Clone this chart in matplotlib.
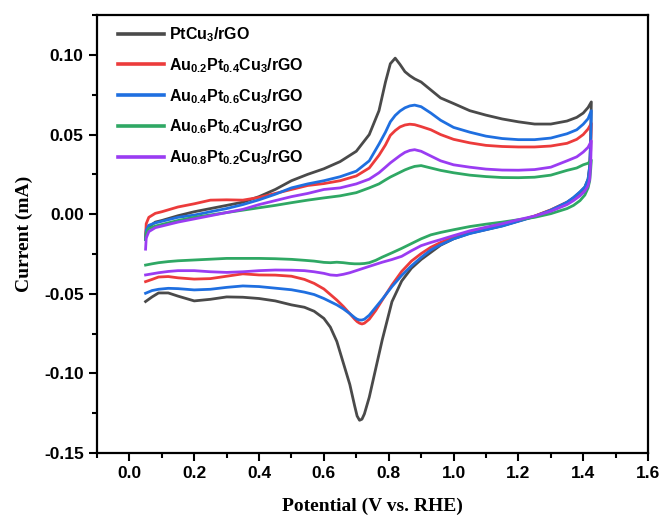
import numpy as np
import matplotlib
matplotlib.use("Agg")
import matplotlib.pyplot as plt

plt.rcParams['font.family'] = ['Liberation Sans', 'DejaVu Sans']
plt.rcParams['mathtext.fontset'] = 'custom'
plt.rcParams['mathtext.rm'] = 'Liberation Sans:bold'
plt.rcParams['mathtext.it'] = 'Liberation Sans:bold'
plt.rcParams['mathtext.bf'] = 'Liberation Sans:bold'

# legend labels and colours
labels = ['PtCu$_3$/rGO',
          'Au$_{0.2}$Pt$_{0.4}$Cu$_3$/rGO',
          'Au$_{0.4}$Pt$_{0.6}$Cu$_3$/rGO',
          'Au$_{0.6}$Pt$_{0.4}$Cu$_3$/rGO',
          'Au$_{0.8}$Pt$_{0.2}$Cu$_3$/rGO']
colors = ['#4a4a4a', '#ec3b3b', '#1f6fe0', '#2fa864', '#9a3cf2']

# anodic sweep (0.05 -> 1.425 V)
x_an = [0.05, 0.052, 0.06, 0.08, 0.1, 0.15, 0.2, 0.25, 0.3, 0.35, 0.4, 0.45, 0.5,
        0.55, 0.6, 0.65, 0.7, 0.74, 0.77, 0.79, 0.805, 0.82, 0.835, 0.85, 0.865, 0.88,
        0.9, 0.93, 0.96, 1.0, 1.05, 1.1, 1.15, 1.2, 1.25, 1.3, 1.35, 1.38, 1.4, 1.415,
        1.425]

an_ptcu3 = [-0.016, -0.011, -0.008, -0.005, -0.004, -0.001, 0.0015, 0.0035, 0.0055,
            0.0075, 0.011, 0.0155, 0.021, 0.025, 0.0285, 0.033, 0.0395, 0.050, 0.065,
            0.083, 0.0945, 0.098, 0.094, 0.0895, 0.087, 0.085, 0.083, 0.078, 0.073,
            0.0695, 0.065, 0.0622, 0.0598, 0.058, 0.0566, 0.0566, 0.0585, 0.0608, 0.0635,
            0.067, 0.0705]
an_au02 = [-0.014, -0.006, -0.002, 0.0005, 0.0015, 0.0045, 0.0065, 0.0088, 0.009,
           0.0088, 0.0105, 0.013, 0.0155, 0.018, 0.0192, 0.021, 0.024, 0.029, 0.037,
           0.0435, 0.0495, 0.0525, 0.0548, 0.056, 0.0565, 0.0562, 0.055, 0.053, 0.050,
           0.047, 0.0448, 0.0432, 0.0425, 0.0422, 0.0422, 0.0428, 0.0445, 0.047, 0.050,
           0.0535, 0.057]
an_au04 = [-0.016, -0.010, -0.007, -0.0055, -0.0045, -0.002, -0.0006, 0.0015, 0.0035,
           0.006, 0.009, 0.0125, 0.0165, 0.019, 0.021, 0.0235, 0.027, 0.0335, 0.044,
           0.0515, 0.058, 0.062, 0.0648, 0.0668, 0.068, 0.0685, 0.0675, 0.0635, 0.059,
           0.0545, 0.0515, 0.049, 0.0475, 0.0468, 0.0468, 0.0478, 0.0505, 0.053, 0.0565,
           0.060, 0.065]
an_au06 = [-0.016, -0.012, -0.009, -0.0075, -0.0065, -0.004, -0.002, -0.0005, 0.001,
           0.0025, 0.004, 0.0055, 0.0072, 0.0088, 0.0102, 0.0115, 0.0135, 0.0165, 0.019,
           0.0215, 0.0233, 0.0248, 0.0263, 0.0278, 0.029, 0.030, 0.0305, 0.029, 0.0275,
           0.026, 0.0245, 0.0236, 0.023, 0.0229, 0.0232, 0.0245, 0.0275, 0.029, 0.031,
           0.032, 0.034]
an_au08 = [-0.022, -0.015, -0.011, -0.0085, -0.0075, -0.005, -0.003, -0.001, 0.001,
           0.003, 0.006, 0.0085, 0.011, 0.013, 0.0155, 0.0165, 0.019, 0.022, 0.026,
           0.0295, 0.0322, 0.0345, 0.0368, 0.0388, 0.040, 0.0405, 0.0395, 0.0365, 0.0335,
           0.031, 0.0295, 0.0283, 0.0277, 0.0276, 0.028, 0.0295, 0.0335, 0.036, 0.039,
           0.042, 0.046]

# cathodic sweep (1.425 -> 0.05 V)
x_cat = [1.425, 1.423, 1.42, 1.415, 1.405, 1.39, 1.37, 1.35, 1.3, 1.25, 1.2, 1.15,
         1.1, 1.05, 1.0, 0.96, 0.93, 0.9, 0.87, 0.84, 0.81, 0.78, 0.76, 0.74, 0.725,
         0.7175, 0.71, 0.7025, 0.695, 0.68, 0.66, 0.64, 0.62, 0.6, 0.57, 0.54, 0.5,
         0.45, 0.4, 0.35, 0.3, 0.25, 0.2, 0.15, 0.12, 0.09, 0.07, 0.05]

cat_ptcu3 = [0.0705, 0.048, 0.030, 0.022, 0.017, 0.0138, 0.0102, 0.0073, 0.0025,
             -0.0013, -0.0043, -0.0073, -0.0097, -0.012, -0.0155, -0.0195, -0.024,
             -0.0285, -0.034, -0.042, -0.055, -0.079, -0.097, -0.115, -0.1255, -0.1288,
             -0.1295, -0.1268, -0.1205, -0.107, -0.0935, -0.080, -0.071, -0.0655, -0.061,
             -0.0585, -0.057, -0.0545, -0.053, -0.0522, -0.052, -0.0535, -0.0545, -0.0515,
             -0.0495, -0.0495, -0.052, -0.0549]
cat_au02 = [0.057, 0.040, 0.028, 0.021, 0.016, 0.013, 0.010, 0.0075, 0.0027, -0.0012,
            -0.0042, -0.0072, -0.0095, -0.0117, -0.0145, -0.0178, -0.0208, -0.0248,
            -0.0295, -0.036, -0.0445, -0.054, -0.0605, -0.066, -0.0685, -0.069, -0.0685,
            -0.0675, -0.066, -0.0625, -0.058, -0.054, -0.0505, -0.047, -0.0435, -0.041,
            -0.039, -0.0383, -0.0382, -0.0375, -0.039, -0.0405, -0.0408, -0.040, -0.0392,
            -0.0395, -0.041, -0.0424]
cat_au04 = [0.065, 0.045, 0.030, 0.022, 0.017, 0.014, 0.0105, 0.0075, 0.0025, -0.0015,
            -0.0045, -0.0075, -0.0098, -0.0122, -0.0155, -0.0192, -0.0225, -0.0272,
            -0.0325, -0.0385, -0.0455, -0.0535, -0.0585, -0.0635, -0.066, -0.0665,
            -0.0665, -0.066, -0.065, -0.0625, -0.0595, -0.057, -0.055, -0.053, -0.0505,
            -0.049, -0.0475, -0.0465, -0.0455, -0.0451, -0.046, -0.0472, -0.0476, -0.0468,
            -0.0466, -0.0472, -0.048, -0.0497]
cat_au06 = [0.034, 0.028, 0.021, 0.0165, 0.012, 0.0085, 0.0055, 0.0035, 0.0003, -0.002,
            -0.0035, -0.005, -0.0063, -0.0078, -0.0098, -0.0115, -0.013, -0.0155, -0.0185,
            -0.0215, -0.0243, -0.027, -0.029, -0.0305, -0.031, -0.0311, -0.0312, -0.0312,
            -0.0312, -0.031, -0.0305, -0.0302, -0.0305, -0.0303, -0.0295, -0.029, -0.0284,
            -0.028, -0.0278, -0.0278, -0.0278, -0.0283, -0.0288, -0.0293, -0.0298,
            -0.0305, -0.0312, -0.032]
cat_au08 = [0.046, 0.032, 0.022, 0.018, 0.0145, 0.0115, 0.0085, 0.006, 0.0018, -0.0012,
            -0.0035, -0.006, -0.0082, -0.0105, -0.0135, -0.016, -0.0178, -0.0198, -0.023,
            -0.0265, -0.0285, -0.0302, -0.0315, -0.0328, -0.0338, -0.0343, -0.0348,
            -0.0353, -0.0358, -0.0368, -0.0378, -0.0385, -0.0382, -0.0372, -0.0362,
            -0.0355, -0.0352, -0.0351, -0.0355, -0.0362, -0.0366, -0.0362, -0.0355,
            -0.0355, -0.036, -0.0368, -0.0375, -0.0382]

anodic = [an_ptcu3, an_au02, an_au04, an_au06, an_au08]
cathodic = [cat_ptcu3, cat_au02, cat_au04, cat_au06, cat_au08]

fig = plt.figure(figsize=(6.64, 5.23), dpi=100)
ax = fig.add_axes([0.146, 0.134, 0.830, 0.837])

for i in range(5):
    x = np.concatenate([x_an, x_cat])
    y = np.concatenate([anodic[i], cathodic[i]])
    ax.plot(x, y, color=colors[i], lw=2.0, label=labels[i],
            solid_joinstyle='round')

ax.set_xlim(-0.1, 1.6)
ax.set_ylim(-0.15, 0.125)
ax.set_xticks(np.arange(0.0, 1.61, 0.2))
ax.set_yticks(np.arange(-0.15, 0.101, 0.05))
ax.set_xticks(np.arange(-0.1, 1.61, 0.1), minor=True)
ax.set_yticks(np.arange(-0.125, 0.126, 0.025), minor=True)
ax.xaxis.set_major_formatter(matplotlib.ticker.FormatStrFormatter('%.1f'))
ax.yaxis.set_major_formatter(matplotlib.ticker.FormatStrFormatter('%.2f'))

ax.tick_params(which='major', direction='out', length=6, width=1.5, labelsize=12.5)
ax.tick_params(which='minor', direction='out', length=3.5, width=1.5)
for lab in ax.get_xticklabels() + ax.get_yticklabels():
    lab.set_fontweight('bold')
for s in ax.spines.values():
    s.set_linewidth(1.6)

ax.set_xlabel('Potential (V vs. RHE)', fontfamily='Liberation Serif',
              fontweight='bold', fontsize=14, labelpad=12)
ax.set_ylabel('Current (mA)', fontfamily='Liberation Serif',
              fontweight='bold', fontsize=14, labelpad=8)

leg = ax.legend(loc='upper left', frameon=False, handlelength=2.9,
                handletextpad=0.3, labelspacing=0.76,
                prop={'weight': 'bold', 'size': 11.5},
                bbox_to_anchor=(0.012, 1.01))
for h in leg.get_lines():
    h.set_linewidth(2.6)

plt.savefig('out.png', dpi=100)
